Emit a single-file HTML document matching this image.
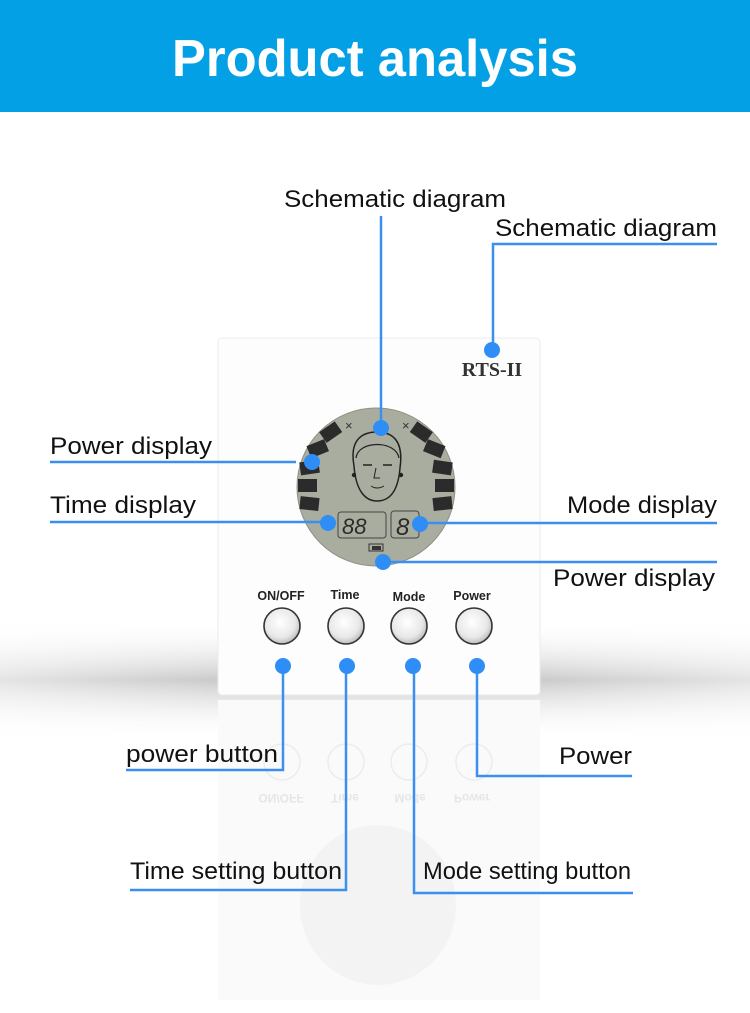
<!DOCTYPE html>
<html><head><meta charset="utf-8"><style>
html,body{margin:0;padding:0;width:750px;height:1013px;overflow:hidden;background:#fff}
svg{display:block}
</style></head><body>
<svg width="750" height="1013" viewBox="0 0 750 1013" xmlns="http://www.w3.org/2000/svg" font-family="Liberation Sans, DejaVu Sans, sans-serif">
<defs>
<linearGradient id="band" x1="0" y1="0" x2="0" y2="1">
<stop offset="0" stop-color="#fff" stop-opacity="0"/>
<stop offset="0.5" stop-color="#c9c9c9"/>
<stop offset="1" stop-color="#fff" stop-opacity="0"/>
</linearGradient>
<linearGradient id="fadeX" x1="0" y1="0" x2="1" y2="0">
<stop offset="0" stop-color="#fff"/>
<stop offset="0.3" stop-color="#fff" stop-opacity="0"/>
<stop offset="0.7" stop-color="#fff" stop-opacity="0"/>
<stop offset="1" stop-color="#fff"/>
</linearGradient>
<radialGradient id="btn" cx="0.45" cy="0.4" r="0.6">
<stop offset="0" stop-color="#ffffff"/>
<stop offset="0.7" stop-color="#e8e8e8"/>
<stop offset="1" stop-color="#bdbdbd"/>
</radialGradient>
</defs>
<rect width="750" height="1013" fill="#fff"/>
<rect x="0" y="0" width="750" height="112" fill="#03a0e6"/>
<text x="172" y="76" textLength="406" lengthAdjust="spacingAndGlyphs" font-size="52" font-weight="bold" fill="#fff">Product analysis</text>
<!-- shadow band -->
<rect x="0" y="620" width="750" height="120" fill="url(#band)"/>
<rect x="0" y="620" width="750" height="120" fill="url(#fadeX)" opacity="0.5"/>
<!-- reflection -->
<rect x="218" y="700" width="322" height="300" fill="#fafafa"/>
<ellipse cx="378" cy="905" rx="78" ry="80" fill="#f3f3f3"/>
<g fill="none" stroke="#ececec" stroke-width="1.5">
<circle cx="282" cy="762" r="18"/><circle cx="346" cy="762" r="18"/><circle cx="409" cy="762" r="18"/><circle cx="474" cy="762" r="18"/>
</g>
<g fill="#e6e6e6" font-size="12" font-weight="bold" text-anchor="middle" transform="translate(0,1584) scale(1,-1)">
<text x="281" y="790">ON/OFF</text><text x="345" y="790">Time</text><text x="410" y="790">Mode</text><text x="472" y="790">Power</text>
</g>
<!-- device body -->
<rect x="218" y="338" width="322" height="357" rx="4" fill="#fdfdfd" stroke="#ececec"/>
<text x="492" y="376" text-anchor="middle" style="font-family:'Liberation Serif',serif" font-size="20" font-weight="bold" fill="#333">RTS-II</text>
<!-- LCD -->
<circle cx="376" cy="487" r="79" fill="#a9ad9f" stroke="#8e9285" stroke-width="1"/>
<g fill="#2b2b2b">
<rect x="321" y="426" width="19" height="13" transform="rotate(-35 330 432)"/>
<rect x="308" y="442" width="19" height="13" transform="rotate(-22 318 448)"/>
<rect x="300" y="461" width="19" height="13" transform="rotate(-8 310 467)"/>
<rect x="298" y="479" width="19" height="13"/>
<rect x="300" y="497" width="19" height="13" transform="rotate(6 309 503)"/>
<rect x="412" y="426" width="19" height="13" transform="rotate(35 422 432)"/>
<rect x="425" y="442" width="19" height="13" transform="rotate(22 434 448)"/>
<rect x="433" y="461" width="19" height="13" transform="rotate(8 442 467)"/>
<rect x="435" y="479" width="19" height="13"/>
<rect x="433" y="497" width="19" height="13" transform="rotate(-6 443 503)"/>
</g>
<text x="345" y="430" font-size="13" fill="#333">×</text>
<text x="402" y="430" font-size="13" fill="#333">×</text>
<path d="M354 466 C349 438 364 432 377 432 C392 432 404 440 400 468 C398 492 389 501 377 501 C366 501 356 492 354 466 Z" fill="none" stroke="#222" stroke-width="1.5"/>
<path d="M356 458 C358 440 396 440 399 458" fill="none" stroke="#222" stroke-width="1.2"/>
<line x1="363" y1="465" x2="372" y2="465" stroke="#222" stroke-width="1.5"/><line x1="383" y1="465" x2="392" y2="465" stroke="#222" stroke-width="1.5"/>
<path d="M376 468 L374 478 L380 478" fill="none" stroke="#222"/>
<path d="M371 486 Q377 490 384 486" fill="none" stroke="#222"/>
<circle cx="354" cy="475" r="2.2" fill="#222"/><circle cx="401" cy="475" r="2.2" fill="#222"/>
<rect x="338" y="512" width="48" height="26" rx="3" fill="none" stroke="#444"/>
<rect x="391" y="511" width="28" height="27" rx="3" fill="none" stroke="#444"/>
<text x="342" y="534" font-size="22" font-style="italic" fill="#2b2b2b">88</text>
<text x="396" y="535" font-size="24" font-style="italic" fill="#2b2b2b">8</text>
<rect x="369" y="544" width="14" height="7" fill="none" stroke="#333"/><rect x="372" y="546" width="9" height="4" fill="#333"/>
<!-- buttons -->
<g font-size="12.5" font-weight="bold" fill="#222" text-anchor="middle">
<text x="281" y="600">ON/OFF</text><text x="345" y="599">Time</text><text x="409" y="601">Mode</text><text x="472" y="600">Power</text>
</g>
<g stroke="#333" stroke-width="1.6" fill="url(#btn)">
<circle cx="282" cy="626" r="18"/><circle cx="346" cy="626" r="18"/><circle cx="409" cy="626" r="18"/><circle cx="474" cy="626" r="18"/>
</g>
<!-- connectors -->
<g stroke="#3a8ff0" stroke-width="2.5" fill="none">
<polyline points="381,216 381,428"/>
<polyline points="717,244 493,244 493,350"/>
<polyline points="50,462 296,462"/>
<polyline points="50,522 322,522"/>
<polyline points="717,523 420,523"/>
<polyline points="717,562 383,562"/>
<polyline points="126,770 283,770 283,666"/>
<polyline points="632,776 477,776 477,666"/>
<polyline points="130,890 346,890 346,666"/>
<polyline points="633,893 414,893 414,666"/>
</g>
<g fill="#2f8ef6">
<circle cx="381" cy="428" r="8"/><circle cx="492" cy="350" r="8"/>
<circle cx="312" cy="462" r="8"/><circle cx="328" cy="523" r="8"/>
<circle cx="420" cy="524" r="8"/><circle cx="383" cy="562" r="8"/>
<circle cx="283" cy="666" r="8"/><circle cx="347" cy="666" r="8"/>
<circle cx="413" cy="666" r="8"/><circle cx="477" cy="666" r="8"/>
</g>
<g font-size="24" fill="#111">
<text x="284" y="207" textLength="222" lengthAdjust="spacingAndGlyphs">Schematic diagram</text>
<text x="495" y="236" textLength="222" lengthAdjust="spacingAndGlyphs">Schematic diagram</text>
<text x="50" y="454" textLength="162" lengthAdjust="spacingAndGlyphs">Power display</text>
<text x="50" y="513" textLength="146" lengthAdjust="spacingAndGlyphs">Time display</text>
<text x="567" y="513" textLength="150" lengthAdjust="spacingAndGlyphs">Mode display</text>
<text x="553" y="586" textLength="162" lengthAdjust="spacingAndGlyphs">Power display</text>
<text x="126" y="762" textLength="152" lengthAdjust="spacingAndGlyphs">power button</text>
<text x="559" y="764" textLength="73" lengthAdjust="spacingAndGlyphs">Power</text>
<text x="130" y="879" textLength="212" lengthAdjust="spacingAndGlyphs">Time setting button</text>
<text x="423" y="879" textLength="208" lengthAdjust="spacingAndGlyphs">Mode setting button</text>
</g>
</svg>
</body></html>
